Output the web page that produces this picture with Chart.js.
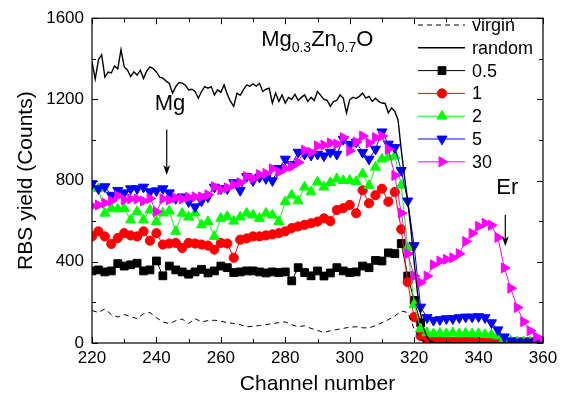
<!DOCTYPE html>
<html>
<head>
<meta charset="utf-8">
<script src="https://cdn.jsdelivr.net/npm/chart.js@4.4.0/dist/chart.umd.min.js"></script>
<style>
  html, body { margin: 0; padding: 0; background: #fff; }
</style>
</head>
<body>
<canvas id="chart" width="565" height="405"></canvas>
<script>
// Channel numbers (fine grid for the random spectrum, every 2nd channel for the rest)
const channels1 = [220,221,222,223,224,225,226,227,228,229,230,231,232,233,234,235,236,237,238,239,
  240,241,242,243,244,245,246,247,248,249,250,251,252,253,254,255,256,257,258,259,
  260,261,262,263,264,265,266,267,268,269,270,271,272,273,274,275,276,277,278,279,
  280,281,282,283,284,285,286,287,288,289,290,291,292,293,294,295,296,297,298,299,
  300,301,302,303,304,305,306,307,308,309,310,311,312,313,314,315,316,317,318,319,
  320,321,322,323,324,325,326,327,328,329,330,331,332,333,334,335,336,337,338,339,
  340,341,342,343,344,345,346,347,348,349,350,351,352,353,354,355,356,357,358,359,360];
const channels2 = [220,222,224,226,228,230,232,234,236,238,240,242,244,246,248,250,252,254,256,258,
  260,262,264,266,268,270,272,274,276,278,280,282,284,286,288,290,292,294,296,298,
  300,302,304,306,308,310,312,314,316,318,320,322,324,326,328,330,332,334,336,338,
  340,342,344,346,348,350,352,354,356,358,360];

const randomYield = [1385,1300,1395,1420,1310,1335,1330,1365,1350,1445,
  1360,1345,1312,1336,1320,1344,1303,1340,1360,1352,
  1335,1310,1305,1290,1279,1231,1263,1283,1280,1270,
  1247,1250,1239,1206,1239,1263,1255,1263,1222,1247,
  1235,1271,1225,1190,1166,1231,1220,1247,1271,1265,
  1276,1265,1279,1239,1250,1255,1182,1231,1190,1222,
  1182,1210,1200,1225,1195,1210,1222,1190,1210,1195,
  1239,1220,1200,1195,1166,1190,1195,1222,1206,1133,
  1198,1210,1205,1215,1231,1206,1215,1190,1206,1190,
  1182,1180,1133,1158,1141,1100,950,820,700,560,
  400,250,145,70,30,10,3,0,0,0,
  0,0,0,0,0,0,0,0,0,0,
  0,0,0,0,0,0,0,0,0,0,
  0,0,0,0,0,0,0,0,0,0,0];
const virginYield = [160,150,168,140,128,140,130,120,144,150,
  125,104,95,110,118,96,120,104,110,112,
  108,100,96,90,80,82,86,90,96,100,
  104,90,80,85,72,62,52,60,66,72,
  78,80,75,74,86,100,115,132,158,150,
  70,15,5,0,0,0,0,0,0,0,
  0,0,0,0,0,0,0,0,0,0,0];
const yield05 = [355,360,350,355,391,379,385,393,355,360,
  404,331,379,360,350,339,350,363,345,355,
  379,371,347,350,355,355,350,345,350,347,
  350,306,371,347,331,355,330,345,371,355,
  347,350,379,371,407,404,444,440,490,330,
  210,100,25,8,6,5,5,5,5,5,
  5,5,5,5,5,5,5,5,5,5,5];
const yield1 = [525,550,525,488,517,541,530,525,550,504,
  541,485,490,493,468,493,490,485,480,460,
  493,490,420,509,515,525,525,530,535,541,
  550,566,574,582,590,598,614,600,655,664,
  680,639,752,688,728,760,696,744,560,300,
  128,35,12,8,8,6,6,6,6,6,
  5,5,5,5,5,5,5,5,5,5,5];
const yield2 = [770,760,639,663,660,663,606,647,606,655,
  598,640,650,550,639,620,640,582,598,525,
  614,623,600,620,639,630,614,639,630,598,
  696,728,700,768,744,793,768,790,809,800,
  801,795,833,776,866,906,915,922,777,470,
  190,70,50,45,48,45,50,45,48,45,
  45,42,40,35,20,10,6,5,5,5,5];
const yield5 = [785,760,770,728,752,740,760,760,768,745,
  750,760,740,712,720,696,671,700,720,768,
  760,760,790,752,820,800,817,810,800,860,
  906,880,940,930,925,930,922,940,930,1003,
  979,990,939,906,955,1040,980,963,850,700,
  480,177,125,112,115,120,120,125,128,128,
  130,125,100,65,30,10,5,5,5,5,5];
const yield30 = [675,680,690,700,725,705,710,710,700,712,
  647,710,705,715,710,718,720,720,730,770,
  755,765,780,790,820,810,830,835,858,842,
  860,870,890,950,939,971,975,985,980,1012,
  947,990,1020,985,1012,1020,955,825,640,440,
  330,298,330,385,404,412,420,440,500,540,
  575,590,580,520,370,270,175,105,60,30,12];

const FONT = '"Liberation Sans", Arial, sans-serif';

function pts(xs, ys) {
  return xs.map((x, i) => ({ x: x, y: ys[i] }));
}

const datasets = [
  { label: 'virgin', data: pts(channels2, virginYield), borderColor: '#000', borderWidth: 1,
    borderDash: [5, 4], pointRadius: 0, order: 1 },
  { label: 'random', data: pts(channels1, randomYield), borderColor: '#000', borderWidth: 1.4,
    pointRadius: 0, order: 0 },
  { label: '0.5', data: pts(channels2, yield05), color: '#000', pointStyle: 'rect', pointRadius: 5.5, rot: 0, order: 6 },
  { label: '1', data: pts(channels2, yield1), color: '#ff0000', pointStyle: 'circle', pointRadius: 4.6, rot: 0, order: 5 },
  { label: '2', data: pts(channels2, yield2), color: '#00ff00', pointStyle: 'triangle', pointRadius: 5.8, rot: 0, order: 4 },
  { label: '5', data: pts(channels2, yield5), color: '#0000ff', pointStyle: 'triangle', pointRadius: 5.8, rot: 180, order: 3 },
  { label: '30', data: pts(channels2, yield30), color: '#ff00ff', pointStyle: 'triangle', pointRadius: 5.8, rot: 90, order: 2 }
];
datasets.forEach(ds => {
  ds.fill = false;
  ds.tension = 0;
  ds.clip = 0;
  if (ds.color) {
    ds.borderColor = ds.color;
    ds.borderWidth = 1;
    ds.pointBackgroundColor = ds.color;
    ds.pointBorderColor = ds.color;
    ds.pointBorderWidth = 1;
    ds.pointRotation = ds.rot;
  }
});

// inward ticks + box on all four sides
const frame = {
  id: 'frame',
  afterDatasetsDraw(chart) {
    const { ctx, chartArea: a, scales: { x, y } } = chart;
    ctx.save();
    ctx.strokeStyle = '#000';
    ctx.lineWidth = 1.2;
    ctx.setLineDash([]);
    ctx.strokeRect(a.left, a.top, a.right - a.left, a.bottom - a.top);
    ctx.lineWidth = 1;
    ctx.beginPath();
    for (let v = 220; v <= 360; v += 10) {
      const px = Math.round(x.getPixelForValue(v)) + 0.5;
      const len = v % 20 === 0 ? 6 : 4;
      ctx.moveTo(px, a.bottom); ctx.lineTo(px, a.bottom - len);
      ctx.moveTo(px, a.top); ctx.lineTo(px, a.top + len);
    }
    for (let v = 0; v <= 1600; v += 200) {
      const py = Math.round(y.getPixelForValue(v)) + 0.5;
      const len = v % 400 === 0 ? 6 : 4;
      ctx.moveTo(a.left, py); ctx.lineTo(a.left + len, py);
      ctx.moveTo(a.right, py); ctx.lineTo(a.right - len, py);
    }
    ctx.stroke();
    ctx.restore();
  }
};

function arrow(ctx, x, y1, y2) {
  ctx.beginPath();
  ctx.moveTo(x, y1);
  ctx.lineTo(x, y2 - 6);
  ctx.stroke();
  ctx.beginPath();
  ctx.moveTo(x - 3.5, y2 - 10);
  ctx.lineTo(x, y2);
  ctx.lineTo(x + 3.5, y2 - 10);
  ctx.lineTo(x, y2 - 7);
  ctx.closePath();
  ctx.fill();
}

const notes = {
  id: 'notes',
  afterDraw(chart) {
    const { ctx, scales: { x, y } } = chart;
    ctx.save();
    ctx.fillStyle = '#000';
    ctx.strokeStyle = '#000';
    ctx.lineWidth = 1.2;
    ctx.textBaseline = 'alphabetic';

    // sample name with subscripts
    let tx = x.getPixelForValue(272.5);
    const ty = y.getPixelForValue(1464);
    const parts = [['Mg', 22, 0], ['0.3', 14, 6], ['Zn', 22, 0], ['0.7', 14, 6], ['O', 22, 0]];
    ctx.textAlign = 'left';
    parts.forEach(([t, size, dy]) => {
      ctx.font = size + 'px ' + FONT;
      ctx.fillText(t, tx, ty + dy);
      tx += ctx.measureText(t).width;
    });

    ctx.font = '22px ' + FONT;
    ctx.textAlign = 'center';
    ctx.fillText('Mg', x.getPixelForValue(244.2), y.getPixelForValue(1148));
    arrow(ctx, x.getPixelForValue(243.2), y.getPixelForValue(1052), y.getPixelForValue(827));
    ctx.fillText('Er', x.getPixelForValue(348.9), y.getPixelForValue(734));
    arrow(ctx, x.getPixelForValue(348.3), y.getPixelForValue(632), y.getPixelForValue(477));

    // legend
    const lx1 = 418, lx2 = 465, mx = 442, textX = 472;
    chart.data.datasets.forEach((ds, i) => {
      const ly = 25 + i * 22.8;
      ctx.strokeStyle = ds.borderColor;
      ctx.lineWidth = ds.borderWidth;
      ctx.setLineDash(ds.borderDash || []);
      ctx.beginPath();
      ctx.moveTo(lx1, ly);
      ctx.lineTo(lx2, ly);
      ctx.stroke();
      ctx.setLineDash([]);
      if (ds.pointRadius > 0) {
        ctx.fillStyle = ds.color;
        ctx.strokeStyle = ds.color;
        Chart.helpers.drawPoint(ctx, {
          pointStyle: ds.pointStyle, rotation: ds.rot, radius: ds.pointRadius, borderWidth: 1
        }, mx, ly);
      }
      ctx.fillStyle = '#000';
      ctx.font = '18px ' + FONT;
      ctx.textAlign = 'left';
      ctx.textBaseline = 'middle';
      ctx.fillText(ds.label, textX, ly + 1);
    });
    ctx.restore();
  }
};

new Chart(document.getElementById('chart'), {
  type: 'line',
  data: { datasets: datasets },
  options: {
    responsive: false,
    animation: false,
    layout: { padding: { left: 0, right: 22, top: 14, bottom: 0 } },
    plugins: { legend: { display: false }, tooltip: { enabled: false } },
    scales: {
      x: {
        type: 'linear', min: 220, max: 360,
        afterFit: s => { s.height = 62; },
        ticks: { stepSize: 20, color: '#000', font: { family: FONT, size: 17 }, padding: 5,
                 maxRotation: 0, callback: v => String(v) },
        grid: { display: false, drawTicks: false },
        border: { display: false },
        title: { display: true, text: 'Channel number', color: '#000',
                 font: { family: FONT, size: 21 }, padding: { top: 0, bottom: 8 } }
      },
      y: {
        min: 0, max: 1600,
        afterFit: s => { s.width = 92; },
        ticks: { stepSize: 400, color: '#000', font: { family: FONT, size: 17 }, padding: 8,
                 callback: v => String(v) },
        grid: { display: false, drawTicks: false },
        border: { display: false },
        title: { display: true, text: 'RBS yield (Counts)', color: '#000',
                 font: { family: FONT, size: 21 }, padding: { top: 14, bottom: 0 } }
      }
    }
  },
  plugins: [frame, notes]
});
</script>
</body>
</html>
